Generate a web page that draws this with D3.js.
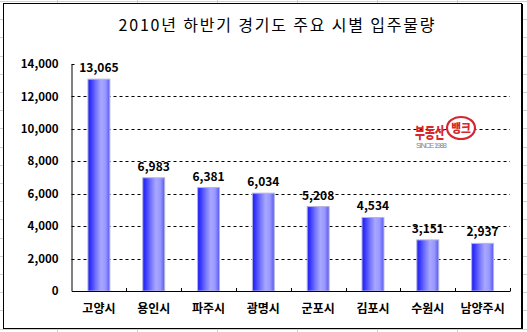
<!DOCTYPE html>
<html><head><meta charset="utf-8">
<script src="https://cdn.jsdelivr.net/npm/d3@7"></script>
<style>
html,body{margin:0;padding:0;background:#fff;}
svg{display:block;}
</style>
</head><body>
<svg id="chart" width="527" height="332"></svg>
<script>
const categories = ["고양시","용인시","파주시","광명시","군포시","김포시","수원시","남양주시"];
const values = [13065, 6983, 6381, 6034, 5208, 4534, 3151, 2937];
const yTicks = [0, 2000, 4000, 6000, 8000, 10000, 12000, 14000];
const title = "2010년 하반기 경기도 주요 시별 입주물량";

(function(){
const svg = d3.select("#chart");
const W = 527, H = 332;
const font = "'Noto Sans CJK KR', 'DejaVu Sans', sans-serif";

// Excel sheet gridlines in background
const bg = svg.append("g");
d3.range(57, W, 80).forEach(xx => bg.append("line").attr("x1", xx+0.5).attr("x2", xx+0.5).attr("y1", 0).attr("y2", H).attr("stroke", "#d0d0d0"));
d3.range(1, H, 18.2).forEach(yy => bg.append("line").attr("x1", 0).attr("x2", W).attr("y1", Math.round(yy)+0.5).attr("y2", Math.round(yy)+0.5).attr("stroke", "#d0d0d0"));

// chart area
svg.append("rect").attr("x", 3.5).attr("y", 3.5).attr("width", 518).attr("height", 325)
  .attr("fill", "#fff").attr("stroke", "#000").attr("stroke-width", 1);
svg.append("line").attr("x1", 522.5).attr("x2", 522.5).attr("y1", 4).attr("y2", 329).attr("stroke", "#000");

// title
svg.append("text").attr("x", 276.5).attr("y", 31).attr("text-anchor", "middle")
  .attr("font-family", font).attr("font-size", 16).attr("fill", "#000")
  .attr("textLength", 316).attr("lengthAdjust", "spacing").text(title);

const pL = 71.5, pR = 510, pT = 64, pB = 291;
const x = d3.scaleBand().domain(categories).range([pL, pR]).padding(0);
const y = d3.scaleLinear().domain([0, 14000]).range([pB, pT]);

// gradient
const defs = svg.append("defs");
const grad = defs.append("linearGradient").attr("id", "barGrad").attr("x1", "0%").attr("x2", "100%").attr("y1", "0%").attr("y2", "0%");
[[0, "#2020ee"], [0.12, "#3333ff"], [0.35, "#7070ff"], [0.6, "#a8a8ff"], [0.8, "#9898ff"], [1, "#5858f2"]]
  .forEach(([o, c]) => grad.append("stop").attr("offset", o).attr("stop-color", c));

// gridlines
svg.append("g").selectAll("line").data(yTicks.filter(t => t > 0 && t < 14000)).join("line")
  .attr("x1", pL).attr("x2", pR)
  .attr("y1", d => Math.round(y(d)) + 0.5).attr("y2", d => Math.round(y(d)) + 0.5)
  .attr("stroke", "#000").attr("stroke-dasharray", "3,3");

// bars
const bw = x.bandwidth() * 0.4;
svg.append("g").selectAll("rect").data(values).join("rect")
  .attr("x", (d, i) => x(categories[i]) + (x.bandwidth() - bw) / 2)
  .attr("y", d => y(d))
  .attr("width", bw)
  .attr("height", d => pB - y(d))
  .attr("fill", "url(#barGrad)")
  .attr("stroke", "#b4b4dc").attr("stroke-width", 1);

// value labels
svg.append("g").selectAll("text").data(values).join("text")
  .attr("x", (d, i) => x(categories[i]) + x.bandwidth() / 2)
  .attr("y", d => y(d) - 7)
  .attr("text-anchor", "middle")
  .attr("font-family", font).attr("font-size", 12).attr("font-weight", "bold")
  .text(d => d3.format(",")(d));

// y axis
const yAxis = d3.axisLeft(y).tickValues(yTicks).tickFormat(d3.format(",")).tickSize(0).tickPadding(13);
const ya = svg.append("g").attr("transform", `translate(${pL},0)`).call(yAxis);
ya.select(".domain").attr("stroke", "#000");
ya.selectAll("text").attr("font-family", font).attr("font-size", 11.5).attr("font-weight", "bold").attr("fill", "#000");
ya.append("line").attr("x1", 0).attr("x2", 3).attr("y1", y(14000) + 0.5).attr("y2", y(14000) + 0.5).attr("stroke", "#000");

// x axis
const xAxis = d3.axisBottom(x).tickSize(0).tickPadding(13);
const xa = svg.append("g").attr("transform", `translate(0,${pB})`).call(xAxis);
xa.select(".domain").attr("stroke", "#000");
xa.selectAll("text").attr("font-family", font).attr("font-size", 12).attr("font-weight", "bold").attr("fill", "#000");
xa.append("g").selectAll("line").data(categories.slice(1).map(c => x(c)).concat([pR])).join("line")
  .attr("x1", d => Math.round(d) + 0.5).attr("x2", d => Math.round(d) + 0.5)
  .attr("y1", 0).attr("y2", -3).attr("stroke", "#000");

// logo
const logo = svg.append("g");
logo.append("text").attr("transform", "translate(415,137.5) scale(0.72,1)")
  .attr("font-family", font).attr("font-size", 15)
  .attr("font-weight", "900").attr("fill", "#d6262e").text("부동산");
logo.append("ellipse").attr("cx", 461).attr("cy", 128).attr("rx", 14).attr("ry", 11)
  .attr("fill", "#fff").attr("stroke", "#d6262e").attr("stroke-width", 2.2);
logo.append("text").attr("transform", "translate(461,133) scale(0.85,1)").attr("text-anchor", "middle").attr("font-family", font)
  .attr("font-size", 12.5).attr("font-weight", "900").attr("fill", "#d6262e").text("뱅크");
logo.append("text").attr("x", 416).attr("y", 148).attr("font-family", "'Liberation Sans', sans-serif")
  .attr("font-size", 7.5).attr("fill", "#888").attr("textLength", 31).text("SINCE 1988");
})();
</script>
</body></html>
